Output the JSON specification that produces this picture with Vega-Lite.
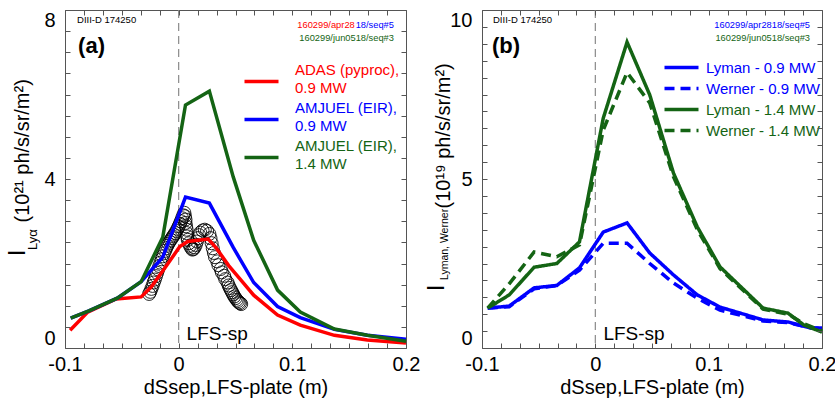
{
  "$schema": "https://vega.github.io/schema/vega-lite/v6.json",
  "background": "white",
  "padding": {"left": 5, "top": 8, "right": 5, "bottom": 4},
  "spacing": 3,
  "datasets": {
    "left": [
      {"model": "ADAS (pyproc), 0.9 MW", "x": -0.0955, "y": 0.42},
      {"model": "ADAS (pyproc), 0.9 MW", "x": -0.08, "y": 0.85},
      {"model": "ADAS (pyproc), 0.9 MW", "x": -0.055, "y": 1.16},
      {"model": "ADAS (pyproc), 0.9 MW", "x": -0.033, "y": 1.21},
      {"model": "ADAS (pyproc), 0.9 MW", "x": -0.024, "y": 1.45},
      {"model": "ADAS (pyproc), 0.9 MW", "x": -0.012, "y": 1.9},
      {"model": "ADAS (pyproc), 0.9 MW", "x": 0.001, "y": 2.4},
      {"model": "ADAS (pyproc), 0.9 MW", "x": 0.008, "y": 2.52},
      {"model": "ADAS (pyproc), 0.9 MW", "x": 0.026, "y": 2.58},
      {"model": "ADAS (pyproc), 0.9 MW", "x": 0.033, "y": 2.37},
      {"model": "ADAS (pyproc), 0.9 MW", "x": 0.044, "y": 1.95},
      {"model": "ADAS (pyproc), 0.9 MW", "x": 0.055, "y": 1.6},
      {"model": "ADAS (pyproc), 0.9 MW", "x": 0.066, "y": 1.25},
      {"model": "ADAS (pyproc), 0.9 MW", "x": 0.087, "y": 0.78},
      {"model": "ADAS (pyproc), 0.9 MW", "x": 0.107, "y": 0.54},
      {"model": "ADAS (pyproc), 0.9 MW", "x": 0.137, "y": 0.3},
      {"model": "ADAS (pyproc), 0.9 MW", "x": 0.166, "y": 0.19},
      {"model": "ADAS (pyproc), 0.9 MW", "x": 0.2, "y": 0.12},
      {"model": "AMJUEL (EIR), 0.9 MW", "x": -0.095, "y": 0.71},
      {"model": "AMJUEL (EIR), 0.9 MW", "x": -0.079, "y": 0.88},
      {"model": "AMJUEL (EIR), 0.9 MW", "x": -0.054, "y": 1.18},
      {"model": "AMJUEL (EIR), 0.9 MW", "x": -0.033, "y": 1.57},
      {"model": "AMJUEL (EIR), 0.9 MW", "x": -0.014, "y": 2.15},
      {"model": "AMJUEL (EIR), 0.9 MW", "x": 0.006, "y": 3.57},
      {"model": "AMJUEL (EIR), 0.9 MW", "x": 0.027, "y": 3.43},
      {"model": "AMJUEL (EIR), 0.9 MW", "x": 0.048, "y": 2.38},
      {"model": "AMJUEL (EIR), 0.9 MW", "x": 0.066, "y": 1.55},
      {"model": "AMJUEL (EIR), 0.9 MW", "x": 0.087, "y": 0.98},
      {"model": "AMJUEL (EIR), 0.9 MW", "x": 0.107, "y": 0.72},
      {"model": "AMJUEL (EIR), 0.9 MW", "x": 0.137, "y": 0.44},
      {"model": "AMJUEL (EIR), 0.9 MW", "x": 0.166, "y": 0.3},
      {"model": "AMJUEL (EIR), 0.9 MW", "x": 0.2, "y": 0.21},
      {"model": "AMJUEL (EIR), 1.4 MW", "x": -0.095, "y": 0.71},
      {"model": "AMJUEL (EIR), 1.4 MW", "x": -0.079, "y": 0.88},
      {"model": "AMJUEL (EIR), 1.4 MW", "x": -0.054, "y": 1.18},
      {"model": "AMJUEL (EIR), 1.4 MW", "x": -0.033, "y": 1.57},
      {"model": "AMJUEL (EIR), 1.4 MW", "x": -0.014, "y": 2.62},
      {"model": "AMJUEL (EIR), 1.4 MW", "x": 0.006, "y": 5.75},
      {"model": "AMJUEL (EIR), 1.4 MW", "x": 0.027, "y": 6.08},
      {"model": "AMJUEL (EIR), 1.4 MW", "x": 0.048, "y": 4.05},
      {"model": "AMJUEL (EIR), 1.4 MW", "x": 0.066, "y": 2.55},
      {"model": "AMJUEL (EIR), 1.4 MW", "x": 0.087, "y": 1.37},
      {"model": "AMJUEL (EIR), 1.4 MW", "x": 0.107, "y": 0.85},
      {"model": "AMJUEL (EIR), 1.4 MW", "x": 0.137, "y": 0.45},
      {"model": "AMJUEL (EIR), 1.4 MW", "x": 0.166, "y": 0.3},
      {"model": "AMJUEL (EIR), 1.4 MW", "x": 0.2, "y": 0.16}
    ],
    "circles": [
      {"x": -0.026, "y": 1.28}, {"x": -0.025, "y": 1.33}, {"x": -0.024, "y": 1.4}, {"x": -0.023, "y": 1.47},
      {"x": -0.022, "y": 1.55}, {"x": -0.021, "y": 1.62}, {"x": -0.02, "y": 1.7}, {"x": -0.019, "y": 1.78},
      {"x": -0.018, "y": 1.86}, {"x": -0.017, "y": 1.94}, {"x": -0.016, "y": 2.02}, {"x": -0.015, "y": 2.1},
      {"x": -0.014, "y": 2.17}, {"x": -0.013, "y": 2.24}, {"x": -0.012, "y": 2.3}, {"x": -0.011, "y": 2.36},
      {"x": -0.01, "y": 2.42}, {"x": -0.009, "y": 2.47}, {"x": -0.008, "y": 2.52}, {"x": -0.007, "y": 2.56},
      {"x": -0.006, "y": 2.6}, {"x": -0.005, "y": 2.64}, {"x": -0.004, "y": 2.68}, {"x": -0.003, "y": 2.72},
      {"x": -0.002, "y": 2.77}, {"x": -0.001, "y": 2.82}, {"x": 0.0, "y": 2.88}, {"x": 0.001, "y": 2.94},
      {"x": 0.002, "y": 3.0}, {"x": 0.003, "y": 3.07}, {"x": 0.004, "y": 3.14}, {"x": 0.005, "y": 3.2},
      {"x": 0.0055, "y": 3.12}, {"x": 0.006, "y": 3.04}, {"x": 0.006, "y": 2.96}, {"x": 0.0065, "y": 2.88},
      {"x": 0.007, "y": 2.8}, {"x": 0.007, "y": 2.72}, {"x": 0.0075, "y": 2.64}, {"x": 0.008, "y": 2.56},
      {"x": 0.009, "y": 2.48}, {"x": 0.01, "y": 2.42}, {"x": 0.011, "y": 2.37}, {"x": 0.012, "y": 2.33},
      {"x": 0.013, "y": 2.34}, {"x": 0.014, "y": 2.38}, {"x": 0.015, "y": 2.44}, {"x": 0.016, "y": 2.52},
      {"x": 0.017, "y": 2.6}, {"x": 0.018, "y": 2.67}, {"x": 0.019, "y": 2.73}, {"x": 0.021, "y": 2.78},
      {"x": 0.023, "y": 2.8}, {"x": 0.025, "y": 2.77}, {"x": 0.027, "y": 2.7}, {"x": 0.028, "y": 2.6},
      {"x": 0.029, "y": 2.48}, {"x": 0.03, "y": 2.36}, {"x": 0.031, "y": 2.25}, {"x": 0.032, "y": 2.15},
      {"x": 0.034, "y": 2.05}, {"x": 0.035, "y": 1.96}, {"x": 0.037, "y": 1.87}, {"x": 0.038, "y": 1.79},
      {"x": 0.04, "y": 1.71}, {"x": 0.041, "y": 1.63}, {"x": 0.043, "y": 1.55}, {"x": 0.044, "y": 1.48},
      {"x": 0.045, "y": 1.42}, {"x": 0.046, "y": 1.37}, {"x": 0.047, "y": 1.32}, {"x": 0.048, "y": 1.27},
      {"x": 0.049, "y": 1.22}, {"x": 0.05, "y": 1.18}, {"x": 0.051, "y": 1.14}, {"x": 0.052, "y": 1.11},
      {"x": 0.053, "y": 1.08}, {"x": 0.054, "y": 1.06}, {"x": 0.055, "y": 1.04}
    ],
    "right": [
      {"series": "Lyman - 0.9 MW", "x": -0.095, "y": 1.18},
      {"series": "Lyman - 0.9 MW", "x": -0.076, "y": 1.24},
      {"series": "Lyman - 0.9 MW", "x": -0.054, "y": 1.78},
      {"series": "Lyman - 0.9 MW", "x": -0.034, "y": 1.85},
      {"series": "Lyman - 0.9 MW", "x": -0.014, "y": 2.37},
      {"series": "Lyman - 0.9 MW", "x": 0.007, "y": 3.43},
      {"series": "Lyman - 0.9 MW", "x": 0.028, "y": 3.7},
      {"series": "Lyman - 0.9 MW", "x": 0.048, "y": 2.81},
      {"series": "Lyman - 0.9 MW", "x": 0.069, "y": 2.16},
      {"series": "Lyman - 0.9 MW", "x": 0.09, "y": 1.57},
      {"series": "Lyman - 0.9 MW", "x": 0.11, "y": 1.21},
      {"series": "Lyman - 0.9 MW", "x": 0.148, "y": 0.83},
      {"series": "Lyman - 0.9 MW", "x": 0.17, "y": 0.77},
      {"series": "Lyman - 0.9 MW", "x": 0.19, "y": 0.59},
      {"series": "Lyman - 0.9 MW", "x": 0.2, "y": 0.59},
      {"series": "Werner - 0.9 MW", "x": -0.095, "y": 1.18},
      {"series": "Werner - 0.9 MW", "x": -0.076, "y": 1.22},
      {"series": "Werner - 0.9 MW", "x": -0.054, "y": 1.75},
      {"series": "Werner - 0.9 MW", "x": -0.034, "y": 1.85},
      {"series": "Werner - 0.9 MW", "x": -0.014, "y": 2.3},
      {"series": "Werner - 0.9 MW", "x": 0.007, "y": 3.1},
      {"series": "Werner - 0.9 MW", "x": 0.028, "y": 3.1},
      {"series": "Werner - 0.9 MW", "x": 0.048, "y": 2.5},
      {"series": "Werner - 0.9 MW", "x": 0.069, "y": 1.92},
      {"series": "Werner - 0.9 MW", "x": 0.09, "y": 1.47},
      {"series": "Werner - 0.9 MW", "x": 0.11, "y": 1.12},
      {"series": "Werner - 0.9 MW", "x": 0.148, "y": 0.8},
      {"series": "Werner - 0.9 MW", "x": 0.17, "y": 0.75},
      {"series": "Werner - 0.9 MW", "x": 0.19, "y": 0.6},
      {"series": "Werner - 0.9 MW", "x": 0.2, "y": 0.58},
      {"series": "Lyman - 1.4 MW", "x": -0.095, "y": 1.18},
      {"series": "Lyman - 1.4 MW", "x": -0.076, "y": 1.57},
      {"series": "Lyman - 1.4 MW", "x": -0.054, "y": 2.39},
      {"series": "Lyman - 1.4 MW", "x": -0.034, "y": 2.5},
      {"series": "Lyman - 1.4 MW", "x": -0.014, "y": 3.14},
      {"series": "Lyman - 1.4 MW", "x": 0.007, "y": 6.8},
      {"series": "Lyman - 1.4 MW", "x": 0.028, "y": 9.05},
      {"series": "Lyman - 1.4 MW", "x": 0.048, "y": 7.49},
      {"series": "Lyman - 1.4 MW", "x": 0.069, "y": 5.17},
      {"series": "Lyman - 1.4 MW", "x": 0.09, "y": 3.58},
      {"series": "Lyman - 1.4 MW", "x": 0.11, "y": 2.4},
      {"series": "Lyman - 1.4 MW", "x": 0.148, "y": 1.18},
      {"series": "Lyman - 1.4 MW", "x": 0.17, "y": 1.03},
      {"series": "Lyman - 1.4 MW", "x": 0.184, "y": 0.68},
      {"series": "Lyman - 1.4 MW", "x": 0.2, "y": 0.47},
      {"series": "Werner - 1.4 MW", "x": -0.095, "y": 1.18},
      {"series": "Werner - 1.4 MW", "x": -0.076, "y": 1.9},
      {"series": "Werner - 1.4 MW", "x": -0.054, "y": 2.84},
      {"series": "Werner - 1.4 MW", "x": -0.034, "y": 2.7},
      {"series": "Werner - 1.4 MW", "x": -0.014, "y": 3.05},
      {"series": "Werner - 1.4 MW", "x": 0.007, "y": 6.45},
      {"series": "Werner - 1.4 MW", "x": 0.028, "y": 8.15},
      {"series": "Werner - 1.4 MW", "x": 0.048, "y": 7.25},
      {"series": "Werner - 1.4 MW", "x": 0.069, "y": 5.06},
      {"series": "Werner - 1.4 MW", "x": 0.09, "y": 3.5},
      {"series": "Werner - 1.4 MW", "x": 0.11, "y": 2.35},
      {"series": "Werner - 1.4 MW", "x": 0.148, "y": 1.15},
      {"series": "Werner - 1.4 MW", "x": 0.17, "y": 1.0},
      {"series": "Werner - 1.4 MW", "x": 0.184, "y": 0.72},
      {"series": "Werner - 1.4 MW", "x": 0.2, "y": 0.5}
    ]
  },
  "resolve": {"scale": {"color": "independent", "strokeDash": "independent", "x": "independent", "y": "independent"}, "legend": {"color": "independent", "strokeDash": "independent"}},
  "hconcat": [
    {
      "width": 341,
      "height": 338,
      "resolve": {"axis": {"x": "independent", "y": "independent"}},
      "layer": [
        {
          "data": {"values": [{}]},
          "mark": {"type": "rule", "color": "#8a8a8a", "strokeWidth": 1.2, "strokeDash": [8, 5]},
          "encoding": {
            "x": {"datum": 0, "type": "quantitative", "scale": {"domain": [-0.1, 0.2], "nice": false, "zero": false},
              "axis": {"orient": "top", "values": [-0.1, -0.08333, -0.06667, -0.05, -0.03333, -0.01667, 0, 0.01667, 0.03333, 0.05, 0.06667, 0.08333, 0.1, 0.11667, 0.13333, 0.15, 0.16667, 0.18333, 0.2], "labels": false, "title": null, "ticks": true, "tickSize": 5, "offset": -5, "zindex": 2}}
          }
        },
        {
          "data": {"name": "circles"},
          "mark": {"type": "point", "shape": "circle", "filled": false, "size": 170, "stroke": "black", "strokeWidth": 1, "opacity": 0.85},
          "encoding": {
            "x": {"field": "x", "type": "quantitative", "scale": {"domain": [-0.1, 0.2], "nice": false, "zero": false},
              "axis": {"orient": "bottom", "values": [-0.1, -0.08333, -0.06667, -0.05, -0.03333, -0.01667, 0, 0.01667, 0.03333, 0.05, 0.06667, 0.08333, 0.1, 0.11667, 0.13333, 0.15, 0.16667, 0.18333, 0.2],
                "labelExpr": "abs(datum.value+0.1)<0.001 ? '-0.1' : abs(datum.value)<0.001 ? '0' : abs(datum.value-0.1)<0.001 ? '0.1' : abs(datum.value-0.2)<0.001 ? '0.2' : ''",
                "labelFlush": false, "labelPadding": 6, "title": "dSsep,LFS-plate (m)", "titlePadding": 3, "ticks": true, "tickSize": 5, "offset": -5, "zindex": 2}},
            "y": {"field": "y", "type": "quantitative", "scale": {"domain": [0, 8], "nice": false},
              "axis": {"orient": "left", "values": [0, 0.5, 1, 1.5, 2, 2.5, 3, 3.5, 4, 4.5, 5, 5.5, 6, 6.5, 7, 7.5, 8],
                "labelExpr": "datum.value === 0 ? '0' : datum.value === 4 ? '4' : datum.value === 8 ? '8' : ''", "labelFlush": true, "labelPadding": 10, "ticks": true, "tickSize": 5, "offset": -5, "zindex": 2,
                "title": "(10²¹ ph/s/sr/m²)", "titleAngle": -90, "titleAlign": "left", "titleBaseline": "alphabetic", "titleX": -42, "titleY": 212}}
          }
        },
        {
          "data": {"name": "left"},
          "mark": {"type": "line", "strokeWidth": 3.5},
          "encoding": {
            "x": {"field": "x", "type": "quantitative", "axis": null},
            "y": {"field": "y", "type": "quantitative", "axis": null},
            "color": {"field": "model", "type": "nominal",
              "scale": {"domain": ["ADAS (pyproc), 0.9 MW", "AMJUEL (EIR), 0.9 MW", "AMJUEL (EIR), 1.4 MW"], "range": ["#ff0000", "#0000ff", "#146414"]},
              "legend": {"orient": "none", "legendX": 186, "legendY": 61, "title": null, "padding": 0,
                "symbolType": "M-2,0H2", "symbolSize": 289, "symbolStrokeWidth": 3.5, "labelFontSize": 15, "labelOffset": 23, "rowPadding": 4, "labelLimit": 300,
                "labelExpr": "[slice(datum.label,0,indexof(datum.label,', ')+1), slice(datum.label,indexof(datum.label,', ')+2)]",
                "encode": {"labels": {"update": {"fill": {"signal": "datum.value === 'ADAS (pyproc), 0.9 MW' ? '#ff0000' : datum.value === 'AMJUEL (EIR), 0.9 MW' ? '#0000ff' : '#146414'"}, "lineHeight": {"value": 18}, "dy": {"value": -12}}}}}
            }
          }
        },
        {
          "data": {"values": [{}]},
          "mark": {"type": "text", "text": "(a)", "align": "left", "baseline": "middle", "fontSize": 22, "fontWeight": "bold", "color": "black"},
          "encoding": {
            "x": {"datum": -0.0885, "type": "quantitative", "axis": null},
            "y": {"datum": 7.15, "type": "quantitative",
              "axis": {"orient": "right", "values": [0, 0.5, 1, 1.5, 2, 2.5, 3, 3.5, 4, 4.5, 5, 5.5, 6, 6.5, 7, 7.5, 8], "labels": false, "title": null, "ticks": true, "tickSize": 5, "offset": -5, "zindex": 2}}
          }
        },
        {
          "data": {"values": [{}]},
          "mark": {"type": "text", "text": "DIII-D 174250", "align": "left", "baseline": "middle", "fontSize": 9.5, "color": "black"},
          "encoding": {"x": {"datum": -0.0894, "type": "quantitative", "axis": null}, "y": {"datum": 7.76, "type": "quantitative", "axis": null}}
        },
        {
          "data": {"values": [{}]},
          "mark": {"type": "text", "text": "160299/apr28", "align": "right", "baseline": "middle", "fontSize": 9.3, "color": "#ff0000"},
          "encoding": {"x": {"datum": 0.1549, "type": "quantitative", "axis": null}, "y": {"datum": 7.645, "type": "quantitative", "axis": null}}
        },
        {
          "data": {"values": [{}]},
          "mark": {"type": "text", "text": "18/seq#5", "align": "right", "baseline": "middle", "fontSize": 9.3, "color": "#0000ff"},
          "encoding": {"x": {"datum": 0.1894, "type": "quantitative", "axis": null}, "y": {"datum": 7.645, "type": "quantitative", "axis": null}}
        },
        {
          "data": {"values": [{}]},
          "mark": {"type": "text", "text": "160299/jun0518/seq#3", "align": "right", "baseline": "middle", "fontSize": 9.3, "color": "#146414"},
          "encoding": {"x": {"datum": 0.1894, "type": "quantitative", "axis": null}, "y": {"datum": 7.337, "type": "quantitative", "axis": null}}
        },
        {
          "data": {"values": [{}]},
          "mark": {"type": "text", "text": "LFS-sp", "align": "left", "baseline": "middle", "fontSize": 19, "color": "black"},
          "encoding": {"x": {"datum": 0.007, "type": "quantitative", "axis": null}, "y": {"datum": 0.33, "type": "quantitative", "axis": null}}
        },
        {
          "data": {"values": [{}]},
          "mark": {"type": "text", "text": "I", "align": "center", "baseline": "alphabetic", "angle": 270, "fontSize": 24, "color": "black"},
          "encoding": {"x": {"datum": -0.1354, "type": "quantitative", "axis": null}, "y": {"datum": 2.25, "type": "quantitative", "axis": null}}
        },
        {
          "data": {"values": [{}]},
          "mark": {"type": "text", "text": "Lyα", "align": "left", "baseline": "alphabetic", "angle": 270, "fontSize": 13, "color": "black"},
          "encoding": {"x": {"datum": -0.1248, "type": "quantitative", "axis": null}, "y": {"datum": 2.32, "type": "quantitative", "axis": null}}
        }
      ]
    },
    {
      "width": 340,
      "height": 338,
      "resolve": {"axis": {"x": "independent", "y": "independent"}},
      "layer": [
        {
          "data": {"values": [{}]},
          "mark": {"type": "rule", "color": "#8a8a8a", "strokeWidth": 1.2, "strokeDash": [8, 5]},
          "encoding": {
            "x": {"datum": 0, "type": "quantitative", "scale": {"domain": [-0.1, 0.2], "nice": false, "zero": false},
              "axis": {"orient": "top", "values": [-0.1, -0.08333, -0.06667, -0.05, -0.03333, -0.01667, 0, 0.01667, 0.03333, 0.05, 0.06667, 0.08333, 0.1, 0.11667, 0.13333, 0.15, 0.16667, 0.18333, 0.2], "labels": false, "title": null, "ticks": true, "tickSize": 5, "offset": -5, "zindex": 2}}
          }
        },
        {
          "data": {"name": "right"},
          "mark": {"type": "line", "strokeWidth": 3.5},
          "encoding": {
            "x": {"field": "x", "type": "quantitative", "scale": {"domain": [-0.1, 0.2], "nice": false, "zero": false},
              "axis": {"orient": "bottom", "values": [-0.1, -0.08333, -0.06667, -0.05, -0.03333, -0.01667, 0, 0.01667, 0.03333, 0.05, 0.06667, 0.08333, 0.1, 0.11667, 0.13333, 0.15, 0.16667, 0.18333, 0.2],
                "labelExpr": "abs(datum.value+0.1)<0.001 ? '-0.1' : abs(datum.value)<0.001 ? '0' : abs(datum.value-0.1)<0.001 ? '0.1' : abs(datum.value-0.2)<0.001 ? '0.2' : ''",
                "labelFlush": false, "labelPadding": 6, "title": "dSsep,LFS-plate (m)", "titlePadding": 3, "ticks": true, "tickSize": 5, "offset": -5, "zindex": 2}},
            "y": {"field": "y", "type": "quantitative", "scale": {"domain": [0, 10], "nice": false},
              "axis": {"orient": "left", "values": [0, 0.5, 1, 1.5, 2, 2.5, 3, 3.5, 4, 4.5, 5, 5.5, 6, 6.5, 7, 7.5, 8, 8.5, 9, 9.5, 10],
                "labelExpr": "datum.value === 0 ? '0' : datum.value === 5 ? '5' : datum.value === 10 ? '10' : ''", "labelFlush": true, "labelPadding": 10, "ticks": true, "tickSize": 5, "offset": -5, "zindex": 2,
                "title": "(10¹⁹ ph/s/sr/m²)", "titleAngle": -90, "titleAlign": "left", "titleBaseline": "alphabetic", "titleX": -38, "titleY": 198}},
            "color": {"field": "series", "type": "nominal",
              "scale": {"domain": ["Lyman - 0.9 MW", "Werner - 0.9 MW", "Lyman - 1.4 MW", "Werner - 1.4 MW"], "range": ["#0000ff", "#0000ff", "#146414", "#146414"]},
              "legend": {"orient": "none", "legendX": 189, "legendY": 47, "title": null, "padding": 0,
                "symbolType": "M-2,0H2", "symbolSize": 289, "symbolStrokeWidth": 3.5, "labelFontSize": 15, "labelOffset": 14, "rowPadding": 2, "labelLimit": 300,
                "encode": {"labels": {"update": {"fill": {"signal": "indexof(datum.value, '0.9') >= 0 ? '#0000ff' : '#146414'"}}}}}},
            "strokeDash": {"field": "series", "type": "nominal",
              "scale": {"domain": ["Lyman - 0.9 MW", "Werner - 0.9 MW", "Lyman - 1.4 MW", "Werner - 1.4 MW"], "range": [[1, 0], [10, 6], [1, 0], [10, 6]]},
              "legend": {"orient": "none", "legendX": 189, "legendY": 47, "title": null, "padding": 0,
                "symbolType": "M-2,0H2", "symbolSize": 289, "symbolStrokeWidth": 3.5, "labelFontSize": 15, "labelOffset": 14, "rowPadding": 2, "labelLimit": 300,
                "encode": {"labels": {"update": {"fill": {"signal": "indexof(datum.value, '0.9') >= 0 ? '#0000ff' : '#146414'"}}}}}}
          }
        },
        {
          "data": {"values": [{}]},
          "mark": {"type": "text", "text": "(b)", "align": "left", "baseline": "middle", "fontSize": 22, "fontWeight": "bold", "color": "black"},
          "encoding": {
            "x": {"datum": -0.0912, "type": "quantitative", "axis": null},
            "y": {"datum": 8.93, "type": "quantitative",
              "axis": {"orient": "right", "values": [0, 0.5, 1, 1.5, 2, 2.5, 3, 3.5, 4, 4.5, 5, 5.5, 6, 6.5, 7, 7.5, 8, 8.5, 9, 9.5, 10], "labels": false, "title": null, "ticks": true, "tickSize": 5, "offset": -5, "zindex": 2}}
          }
        },
        {
          "data": {"values": [{}]},
          "mark": {"type": "text", "text": "DIII-D 174250", "align": "left", "baseline": "middle", "fontSize": 9.5, "color": "black"},
          "encoding": {"x": {"datum": -0.0903, "type": "quantitative", "axis": null}, "y": {"datum": 9.7, "type": "quantitative", "axis": null}}
        },
        {
          "data": {"values": [{}]},
          "mark": {"type": "text", "text": "160299/apr2818/seq#5", "align": "right", "baseline": "middle", "fontSize": 9.3, "color": "#0000ff"},
          "encoding": {"x": {"datum": 0.1894, "type": "quantitative", "axis": null}, "y": {"datum": 9.556, "type": "quantitative", "axis": null}}
        },
        {
          "data": {"values": [{}]},
          "mark": {"type": "text", "text": "160299/jun0518/seq#3", "align": "right", "baseline": "middle", "fontSize": 9.3, "color": "#146414"},
          "encoding": {"x": {"datum": 0.1894, "type": "quantitative", "axis": null}, "y": {"datum": 9.17, "type": "quantitative", "axis": null}}
        },
        {
          "data": {"values": [{}]},
          "mark": {"type": "text", "text": "LFS-sp", "align": "left", "baseline": "middle", "fontSize": 19, "color": "black"},
          "encoding": {"x": {"datum": 0.0071, "type": "quantitative", "axis": null}, "y": {"datum": 0.41, "type": "quantitative", "axis": null}}
        },
        {
          "data": {"values": [{}]},
          "mark": {"type": "text", "text": "I", "align": "center", "baseline": "alphabetic", "angle": 270, "fontSize": 24, "color": "black"},
          "encoding": {"x": {"datum": -0.1336, "type": "quantitative", "axis": null}, "y": {"datum": 1.78, "type": "quantitative", "axis": null}}
        },
        {
          "data": {"values": [{}]},
          "mark": {"type": "text", "text": "Lyman, Werner", "align": "left", "baseline": "alphabetic", "angle": 270, "fontSize": 10.5, "color": "black"},
          "encoding": {"x": {"datum": -0.1301, "type": "quantitative", "axis": null}, "y": {"datum": 2.01, "type": "quantitative", "axis": null}}
        }
      ]
    }
  ],
  "config": {
    "font": "Liberation Sans",
    "view": {"stroke": "#555555", "strokeWidth": 1, "fill": "transparent"},
    "axis": {"domain": false, "grid": false, "ticks": true, "tickColor": "#555555", "tickWidth": 1, "tickOpacity": 1, "labelFont": "Liberation Sans", "labelFontSize": 20, "labelColor": "black", "labelOverlap": false, "labelBound": false, "titleFont": "Liberation Sans", "titleFontSize": 20, "titleFontWeight": "normal", "titleColor": "black"},
    "legend": {"labelFont": "Liberation Sans"},
    "text": {"font": "Liberation Sans"}
  }
}
